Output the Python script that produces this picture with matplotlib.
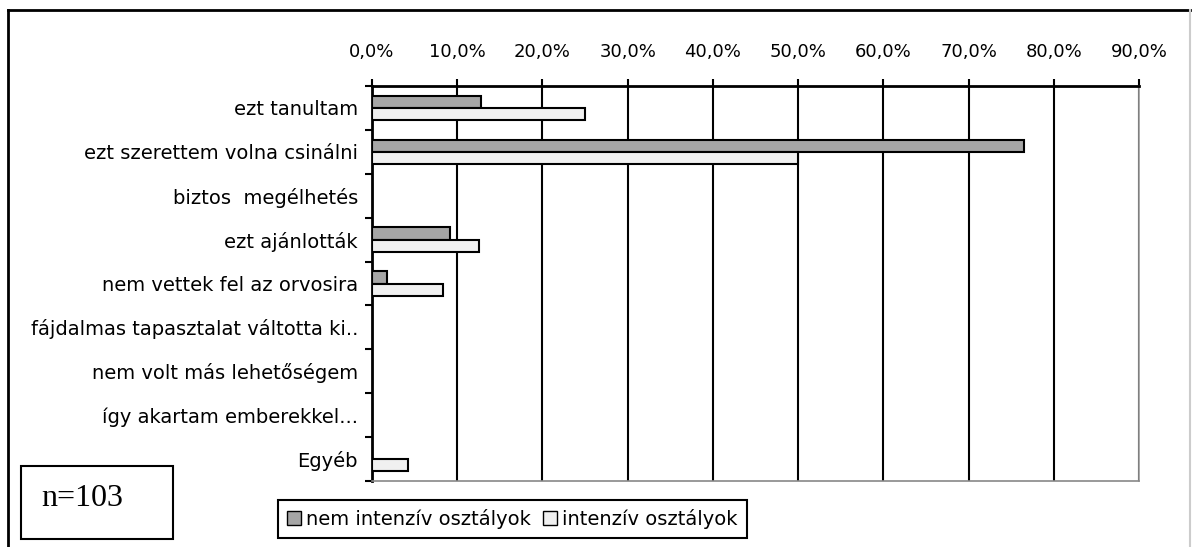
import matplotlib
matplotlib.use("Agg")
import matplotlib.pyplot as plt
from matplotlib.ticker import FuncFormatter, FixedLocator
from matplotlib.patches import Rectangle, Patch
from matplotlib.lines import Line2D
import numpy as np

categories = [
    "ezt tanultam",
    "ezt szerettem volna csinálni",
    "biztos  megélhetés",
    "ezt ajánlották",
    "nem vettek fel az orvosira",
    "fájdalmas tapasztalat váltotta ki..",
    "nem volt más lehetőségem",
    "így akartam emberekkel...",
    "Egyéb",
]
nem_intenziv = [12.8, 76.5, 0, 9.2, 1.8, 0, 0, 0, 0]
intenziv = [25.0, 50.0, 0, 12.5, 8.3, 0, 0, 0, 4.2]
series_names = ["nem intenzív osztályok", "intenzív osztályok"]
x_ticks = [0, 10, 20, 30, 40, 50, 60, 70, 80, 90]

W, H = 1193, 547
fig = plt.figure(figsize=(W / 100, H / 100), dpi=100)
plt.rcParams['font.family'] = ['DejaVu Sans']

def fx(px):
    return px / W

def fy(py):
    return 1 - py / H

ax_l, ax_r, ax_t, ax_b = 372, 1139, 86, 481
ax = fig.add_axes([fx(ax_l), fy(ax_b), fx(ax_r - ax_l), (ax_b - ax_t) / H])

y = np.arange(len(categories))
bh = 0.28
ax.barh(y - 0.14, nem_intenziv, height=bh, color="#a6a6a6", edgecolor="black",
        linewidth=1.5, zorder=3)
ax.barh(y + 0.14, intenziv, height=bh, color="#f0f0f0", edgecolor="black",
        linewidth=1.5, zorder=3)

ax.set_xlim(0, 90)
ax.set_ylim(len(categories) - 0.5, -0.5)

ax.xaxis.set_major_locator(FixedLocator(x_ticks))
ax.xaxis.set_major_formatter(FuncFormatter(lambda v, p: f"{v:.1f}%".replace(".", ",")))
ax.xaxis.tick_top()
ax.tick_params(axis="x", which="major", direction="out", length=5, width=1.5,
               labelsize=13, pad=13, colors="black")
ax.grid(axis="x", color="black", linewidth=1.5, zorder=1)

ax.set_yticks(y)
ax.set_yticklabels(categories, fontsize=14)
ax.tick_params(axis="y", which="major", length=0, pad=10)
ax.set_yticks(np.arange(-0.5, len(categories), 1.0), minor=True)
ax.tick_params(axis="y", which="minor", direction="out", length=5, width=1.5)

ax.spines["top"].set_linewidth(2)
ax.spines["top"].set_color("black")
ax.spines["left"].set_linewidth(2)
ax.spines["left"].set_color("black")
ax.spines["bottom"].set_color("#888888")
ax.spines["bottom"].set_linewidth(1.2)
ax.spines["right"].set_color("#999999")
ax.spines["right"].set_linewidth(1.2)

# outer frame
fig.add_artist(Line2D([fx(8), fx(8)], [fy(10), 0], color="black", linewidth=2,
                      transform=fig.transFigure))
fig.add_artist(Line2D([fx(8), fx(1190)], [fy(10), fy(10)], color="black", linewidth=2,
                      transform=fig.transFigure))
fig.add_artist(Line2D([fx(1190), fx(1190)], [fy(10), 0], color="#cccccc", linewidth=1.5,
                      transform=fig.transFigure))

# n=103 box
fig.add_artist(Rectangle((fx(21), fy(539)), fx(173 - 21), (539 - 466) / H,
                         transform=fig.transFigure, fill=False, edgecolor="black",
                         linewidth=1.5))
fig.text(fx(41), fy(499), "n=103", family="Liberation Serif", fontsize=23,
         ha="left", va="center")

# legend
handles = [Patch(facecolor="#a6a6a6", edgecolor="black", linewidth=1),
           Patch(facecolor="#f0f0f0", edgecolor="black", linewidth=1)]
leg = fig.legend(handles, series_names, loc="center",
                 bbox_to_anchor=(fx(512.5), fy(519)), ncol=2, fontsize=14,
                 frameon=True, fancybox=False, framealpha=1, edgecolor="black",
                 handlelength=0.7, handleheight=0.7, handletextpad=0.3,
                 columnspacing=0.6, borderpad=0.45, borderaxespad=0)
leg.get_frame().set_linewidth(1.5)

fig.savefig("out.png", dpi=100)
